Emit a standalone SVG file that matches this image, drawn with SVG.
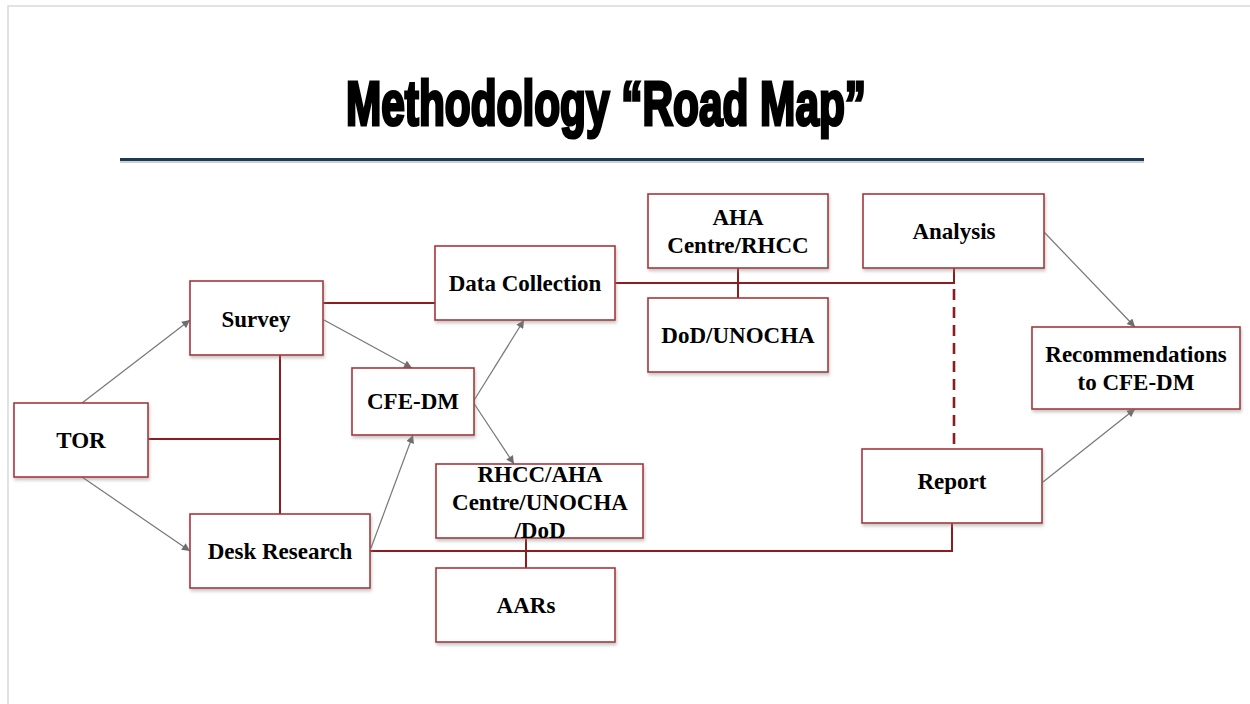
<svg xmlns="http://www.w3.org/2000/svg" width="1250" height="704" viewBox="0 0 1250 704">
  <defs>
    <filter id="sh" x="-10%" y="-10%" width="130%" height="140%">
      <feDropShadow dx="1" dy="2.5" stdDeviation="1.5" flood-color="#888" flood-opacity="0.45"/>
    </filter>
    <marker id="ah" viewBox="0 0 10 10" refX="10" refY="5" markerWidth="9" markerHeight="8" markerUnits="userSpaceOnUse" orient="auto">
      <path d="M0,0 L10,5 L0,10 z" fill="#6e6e6e"/>
    </marker>
    <style>
      .box { fill: #ffffff; stroke: #a5363b; stroke-width: 1.6; filter: url(#sh); }
      .lbl { font-family: "Liberation Serif", "Times New Roman", serif; font-weight: bold; font-size: 23px; fill: #000; text-anchor: middle; }
      .link { fill: none; stroke: #8b1c1f; stroke-width: 2; }
      .dash { fill: none; stroke: #8b1c1f; stroke-width: 2.6; stroke-dasharray: 11 7; }
      .arr { fill: none; stroke: #777; stroke-width: 1.2; marker-end: url(#ah); }
    </style>
  </defs>
  <rect x="0" y="0" width="1250" height="704" fill="#ffffff"/>
  <rect x="8" y="6" width="1262" height="720" fill="none" stroke="#d9d9d9" stroke-width="1.5"/>

  <text x="346" y="0" transform="translate(0,125) scale(1,1.08)" textLength="520" lengthAdjust="spacingAndGlyphs" font-family="Liberation Sans, Arial, sans-serif" font-weight="bold" font-size="58" fill="#000" stroke="#000" stroke-width="3">Methodology “Road Map”</text>
  <line x1="120" y1="162" x2="1144" y2="162" stroke="#cfcfcf" stroke-width="2"/>
  <line x1="120" y1="159.5" x2="1144" y2="159.5" stroke="#1c3b58" stroke-width="3"/>

  <g id="connectors">
    <polyline class="link" points="323,303 435,303"/>
    <polyline class="link" points="148,439 280,439"/>
    <polyline class="link" points="280,355 280,514"/>
    <polyline class="link" points="615,283 954,283 954,268"/>
    <polyline class="link" points="738,268 738,298"/>
    <line class="dash" x1="954" y1="289" x2="954" y2="446"/>
    <polyline class="link" points="370,551 952,551 952,523"/>
    <polyline class="link" points="526,538 526,568"/>
    <line class="arr" x1="82" y1="403" x2="190" y2="320"/>
    <line class="arr" x1="82" y1="477" x2="190" y2="551"/>
    <line class="arr" x1="324" y1="320" x2="412" y2="368"/>
    <line class="arr" x1="371" y1="548" x2="413" y2="435"/>
    <line class="arr" x1="473" y1="402" x2="524" y2="320"/>
    <line class="arr" x1="473" y1="402" x2="514" y2="464"/>
    <line class="arr" x1="1044" y1="232" x2="1135" y2="327"/>
    <line class="arr" x1="1043" y1="482" x2="1135" y2="409"/>
  </g>

  <g id="tor"><rect class="box" x="14" y="403" width="134" height="74"/><text class="lbl" x="81" y="448">TOR</text></g>
  <g id="survey"><rect class="box" x="190" y="281" width="133" height="74"/><text class="lbl" x="256" y="327">Survey</text></g>
  <g id="cfedm"><rect class="box" x="352" y="368" width="122" height="67"/><text class="lbl" x="413" y="409">CFE-DM</text></g>
  <g id="desk"><rect class="box" x="190" y="514" width="180" height="74"/><text class="lbl" x="280" y="559">Desk Research</text></g>
  <g id="datacollection"><rect class="box" x="435" y="246" width="180" height="74"/><text class="lbl" x="525" y="291">Data Collection</text></g>
  <g id="aha"><rect class="box" x="648" y="194" width="180" height="74"/><text class="lbl" x="738" y="225">AHA</text><text class="lbl" x="738" y="253">Centre/RHCC</text></g>
  <g id="dod"><rect class="box" x="648" y="298" width="180" height="74"/><text class="lbl" x="738" y="343">DoD/UNOCHA</text></g>
  <g id="analysis"><rect class="box" x="863" y="194" width="181" height="74"/><text class="lbl" x="954" y="239">Analysis</text></g>
  <g id="recommendations"><rect class="box" x="1032" y="327" width="208" height="82"/><text class="lbl" x="1136" y="362">Recommendations</text><text class="lbl" x="1136" y="390">to CFE-DM</text></g>
  <g id="report"><rect class="box" x="862" y="449" width="180" height="74"/><text class="lbl" x="952" y="489">Report</text></g>
  <g id="rhcc"><rect class="box" x="436" y="464" width="207" height="74"/><text class="lbl" x="540" y="482">RHCC/AHA</text><text class="lbl" x="540" y="510">Centre/UNOCHA</text><text class="lbl" x="540" y="538">/DoD</text></g>
  <g id="aars"><rect class="box" x="436" y="568" width="179" height="74"/><text class="lbl" x="526" y="613">AARs</text></g>
</svg>
